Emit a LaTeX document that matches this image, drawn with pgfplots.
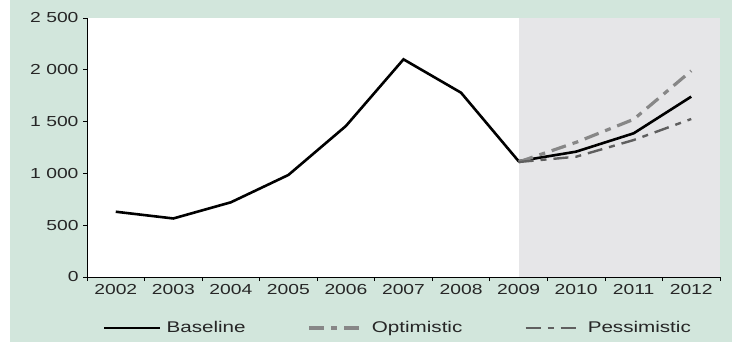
\documentclass[border=0pt]{standalone}
\usepackage{fontspec}
\setmainfont{Liberation Sans}[FakeStretch=1.33]
\usepackage{pgfplots}
\pgfplotsset{compat=1.18}
\definecolor{bggreen}{RGB}{210,230,220}
\definecolor{shadegray}{RGB}{230,230,232}
\definecolor{optgray}{RGB}{135,135,135}
\definecolor{pesgray}{RGB}{95,95,95}
\begin{document}
\begin{tikzpicture}[x=1pt,y=1pt]
\path[use as bounding box] (0,0) rectangle (744,354);
\fill[bggreen] (10,12) rectangle (732,354);
\begin{axis}[
  at={(87pt,77pt)}, anchor=south west,
  scale only axis, width=633pt, height=259pt,
  axis background/.style={fill=white},
  axis on top,
  axis lines*=left,
  axis line style={black, line width=1pt},
  xmin=2001.5, xmax=2012.5,
  ymin=0, ymax=2500,
  ytick={0,500,1000,1500,2000,2500},
  yticklabels={0,500,1 000,1 500,2 000,2 500},
  xtick={2001.5,2002.5,...,2012.5},
  xticklabels={,,,,,,,,,,,,},
  extra x ticks={2002,2003,...,2012},
  extra x tick labels={2002,2003,2004,2005,2006,2007,2008,2009,2010,2011,2012},
  extra x tick style={major tick length=0pt},
  tick align=outside,
  major tick length=4pt,
  tick style={black, line width=0.8pt},
  ticklabel style={font=\fontsize{14.5}{14.5}\selectfont, text=black!85},
  xticklabel style={yshift=-4pt},
  yticklabel style={xshift=-1pt},
  legend columns=3,
  legend image code/.code={\draw[#1] (0pt,0pt) -- (56pt,0pt);},
  legend style={at={(0.0253,-0.197)}, anchor=west, draw=none, fill=none,
    inner sep=0pt, outer sep=0pt,
    font=\fontsize{15.5}{16}\selectfont, text=black!85,
    /tikz/every odd column/.append style={column sep=5pt},
    /tikz/every even column/.append style={column sep=62pt},
    nodes={inner sep=0pt}},
]
\fill[shadegray] (axis cs:2009,0) rectangle (axis cs:2012.5,2500);
\addplot[black, line width=2.6pt] coordinates {
  (2002,630) (2003,565) (2004,721) (2005,985) (2006,1458) (2007,2101)
  (2008,1779) (2009,1118) (2010,1210) (2011,1387) (2012,1741)};
\addlegendentry{Baseline}
\addplot[optgray, line width=3.2pt, dash pattern=on 15pt off 7pt on 6pt off 7pt] coordinates {
  (2009,1110) (2010,1300) (2011,1522) (2012,1990)};
\addlegendentry{Optimistic}
\addplot[pesgray, line width=2.4pt, dash pattern=on 15pt off 7pt on 6pt off 7pt] coordinates {
  (2009,1110) (2010,1161) (2011,1322) (2012,1525)};
\addlegendentry{Pessimistic}
\end{axis}
\end{tikzpicture}
\end{document}
